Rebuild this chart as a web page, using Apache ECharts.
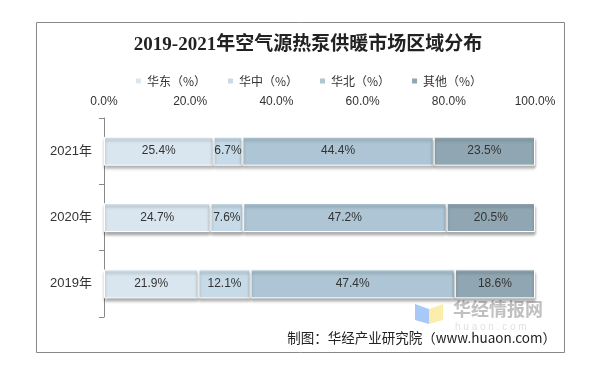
<!DOCTYPE html>
<html><head><meta charset="utf-8">
<script src="https://cdn.jsdelivr.net/npm/echarts@6/dist/echarts.min.js"></script>
<style>html,body{margin:0;padding:0;background:#fff}#c{width:616px;height:373px}</style>
</head><body><div id="c"></div>
<script>
const categories = ['2019年', '2020年', '2021年'];
const seriesNames = ['华东（%）', '华中（%）', '华北（%）', '其他（%）'];
const huadong = [21.9, 24.7, 25.4];
const huazhong = [12.1, 7.6, 6.7];
const huabei = [47.4, 47.2, 44.4];
const qita = [18.6, 20.5, 23.5];
const xTicks = [0, 20, 40, 60, 80, 100];

const colors = ['#dae6ef', '#c6dbe7', '#adc5d4', '#90a7b3'];
const values = [huadong, huazhong, huabei, qita];
const chart = echarts.init(document.getElementById('c'), null, {renderer: 'canvas'});
chart.setOption({
  animation: false,
  title: {text: '2019-2021年空气源热泵供暖市场区域分布', left: 'center', top: 31,
    textStyle: {fontFamily: 'Liberation Serif, DejaVu Serif, Noto Sans CJK SC', fontWeight: 'bold', fontSize: 19, color: '#222'}},
  legend: {top: 70, left: 'center', itemWidth: 7, itemHeight: 7, itemGap: 20, icon: 'rect',
    textStyle: {fontSize: 12, color: '#333', fontFamily: 'Noto Sans CJK SC'}, data: seriesNames},
  grid: {left: 104, right: 81, top: 118, bottom: 56, containLabel: false},
  xAxis: {type: 'value', position: 'top', min: xTicks[0], max: xTicks[xTicks.length - 1], interval: 20,
    axisLine: {show: false}, axisTick: {show: false}, splitLine: {show: false},
    axisLabel: {formatter: v => v.toFixed(1) + '%', fontSize: 12, color: '#333', margin: 10, fontFamily: 'Liberation Sans, Arial'}},
  yAxis: {type: 'category', data: categories,
    axisLine: {show: true, lineStyle: {color: '#888', width: 1}},
    axisTick: {show: true, length: 5, lineStyle: {color: '#888'}},
    axisLabel: {fontSize: 13, color: '#333', margin: 12, fontFamily: 'Liberation Sans, Noto Sans CJK SC'}},
  graphic: [
    {type: 'rect', shape: {x: 36.5, y: 22.5, width: 528, height: 330}, style: {fill: 'none', stroke: '#888', lineWidth: 1}, silent: true, z: -1},
    {type: 'polygon', shape: {points: [[415, 304], [429, 309], [429, 324], [415, 320]]}, style: {fill: '#a8c8f8'}},
    {type: 'polygon', shape: {points: [[429, 309], [443, 304], [443, 320], [429, 324]]}, style: {fill: '#fbeeaa'}},
    {type: 'text', left: 453, top: 300, style: {text: '华经情报网', fill: '#c0c0c0', fontSize: 18, fontWeight: 'bold', fontFamily: 'Noto Sans CJK SC'}},
    {type: 'text', left: 455, top: 322, style: {text: 'h u a o n . c o m', fill: '#e2e2e2', fontSize: 10, fontFamily: 'Liberation Sans'}},
    {type: 'text', right: 60, top: 331, style: {text: '制图：华经产业研究院（www.huaon.com）', fill: '#222', fontSize: 13.5, fontFamily: 'Noto Sans CJK SC'}}
  ],
  series: seriesNames.map((n, i) => ({
    name: n, type: 'bar', stack: 'total', barWidth: 29,
    data: values[i],
    itemStyle: {color: colors[i], borderColor: '#fff', borderWidth: 1,
      shadowColor: 'rgba(0,0,0,0.35)', shadowOffsetY: 3, shadowBlur: 3},
    label: {show: true, position: 'inside', formatter: p => p.value.toFixed(1) + '%', fontSize: 12, color: '#333', fontFamily: 'Liberation Sans, Arial'}
  }))
});
</script></body></html>
